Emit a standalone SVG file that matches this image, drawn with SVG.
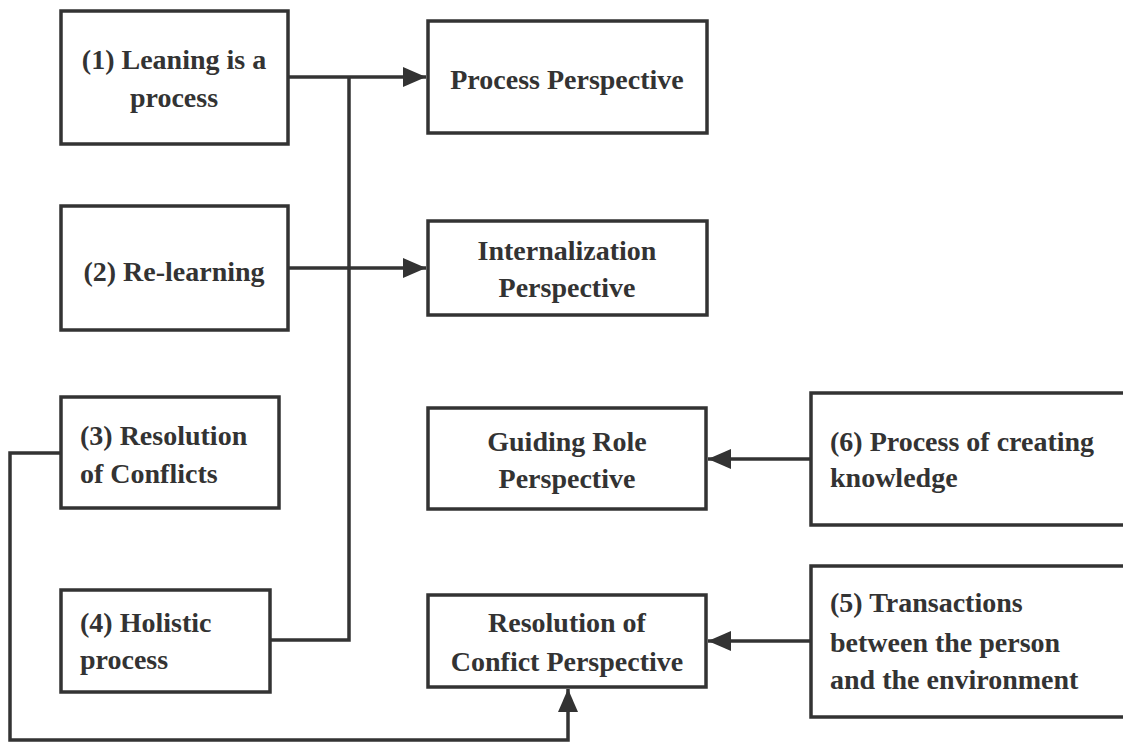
<svg xmlns="http://www.w3.org/2000/svg" width="1123" height="742" viewBox="0 0 1123 742">
<style>
.box{fill:#fff;stroke:#333;stroke-width:3.5}
.c{text-anchor:middle}
.ln{fill:none;stroke:#333;stroke-width:3.5}
</style>
<defs>
<marker id="ah" markerUnits="userSpaceOnUse" markerWidth="24" markerHeight="20" refX="23" refY="10" orient="auto">
<path d="M0,0 L23,10 L0,20 z" fill="#333"/>
</marker>
</defs>
<g id="connectors">
<path class="ln" d="M288,77 H426" marker-end="url(#ah)"/>
<path class="ln" d="M288,268 H426" marker-end="url(#ah)"/>
<path class="ln" d="M349,77 V640 H270"/>
<path class="ln" d="M61,453 H10 V740 H568 V689" marker-end="url(#ah)"/>
<path class="ln" d="M811,459 H708" marker-end="url(#ah)"/>
<path class="ln" d="M811,641 H708" marker-end="url(#ah)"/>
</g>
<g font-family="Liberation Serif, Times New Roman, serif" font-weight="bold" font-size="28" fill="#333">
<g id="n1"><rect class="box" x="61" y="11" width="227" height="133"/>
<text class="c" x="174" y="69">(1) Leaning is a</text><text class="c" x="174" y="107">process</text></g>
<g id="n2"><rect class="box" x="61" y="206" width="227" height="124"/>
<text class="c" x="174" y="281">(2) Re-learning</text></g>
<g id="n3"><rect class="box" x="61" y="397" width="218" height="111"/>
<text x="80" y="445">(3) Resolution</text><text x="80" y="483">of Conflicts</text></g>
<g id="n4"><rect class="box" x="61" y="590" width="209" height="102"/>
<text x="80" y="632">(4) Holistic</text><text x="80" y="669">process</text></g>
<g id="p1"><rect class="box" x="428" y="21" width="279" height="112"/>
<text class="c" x="567" y="89">Process Perspective</text></g>
<g id="p2"><rect class="box" x="428" y="221" width="279" height="94"/>
<text class="c" x="567" y="260">Internalization</text><text class="c" x="567" y="297">Perspective</text></g>
<g id="p3"><rect class="box" x="428" y="408" width="278" height="101"/>
<text class="c" x="567" y="451">Guiding Role</text><text class="c" x="567" y="488">Perspective</text></g>
<g id="p4"><rect class="box" x="428" y="595" width="278" height="92"/>
<text class="c" x="567" y="632">Resolution of</text><text class="c" x="567" y="671">Confict Perspective</text></g>
<g id="n6"><rect class="box" x="811" y="393" width="320" height="132"/>
<text x="830" y="451">(6) Process of creating</text><text x="830" y="487">knowledge</text></g>
<g id="n5"><rect class="box" x="811" y="566" width="320" height="151"/>
<text x="830" y="612">(5) Transactions</text><text x="830" y="652">between the person</text><text x="830" y="689">and the environment</text></g>
</g>
</svg>
